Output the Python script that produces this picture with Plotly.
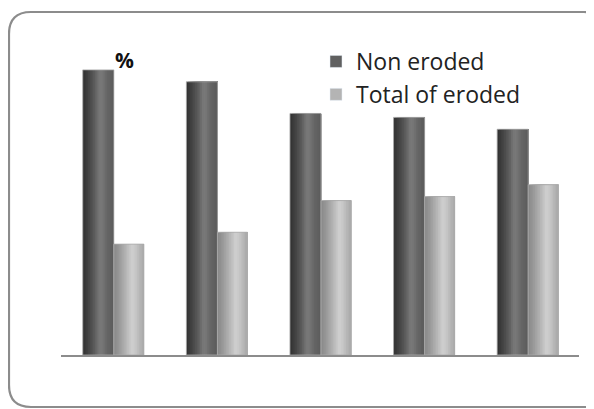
import plotly.graph_objects as go

# ---- data ----
groups = ["1", "2", "3", "4", "5"]
non_eroded = [72, 69, 61, 60, 57]
total_eroded = [28, 31, 39, 40, 43]
series_names = ["Non eroded", "Total of eroded"]
axis_label = "%"

# ---- style ----
W, H = 594, 409          # window size
OFF = 8                  # page body margin
FW, FH = W - OFF, H - OFF
# plot area in window pixels
PL, PR, PT, PB = 61, 579, 58, 355
ML, MR, MT, MB = PL - OFF, W - PR, PT - OFF, H - PB
YMAX = 75
FONT = "Open Sans"
N_STRIPES = 18

dark_profile = [(0.0, 0x30), (0.15, 0x40), (0.35, 0x58), (0.55, 0x7a), (0.65, 0x74),
                (0.8, 0x64), (1.0, 0x5c)]
light_profile = [(0.0, 0x88), (0.15, 0x96), (0.35, 0xae), (0.6, 0xcf), (0.72, 0xc8),
                 (0.88, 0xb4), (1.0, 0xaa)]


def shade(profile, t):
    for (t0, v0), (t1, v1) in zip(profile, profile[1:]):
        if t0 <= t <= t1:
            v = int(round(v0 + (v1 - v0) * (t - t0) / (t1 - t0)))
            return f"rgb({v},{v},{v})"
    v = profile[-1][1]
    return f"rgb({v},{v},{v})"


fig = go.Figure()

bars = [
    (non_eroded, -0.29, 0.30, dark_profile, "#606060"),
    (total_eroded, 0.01, 0.29, light_profile, "#b4b4b4"),
]

for values, start, width, profile, _ in bars:
    for i in range(N_STRIPES):
        t = (i + 0.5) / N_STRIPES
        s = start + i * width / N_STRIPES
        fig.add_trace(go.Bar(
            x=groups, y=values,
            offset=s, width=start + width - s,
            marker=dict(color=shade(profile, t), line=dict(width=0)),
            showlegend=False, hoverinfo="skip",
        ))
    fig.add_trace(go.Bar(
        x=groups, y=values, offset=start, width=width,
        marker=dict(color="rgba(0,0,0,0)", line=dict(color="rgba(170,170,170,0.8)", width=1)),
        showlegend=False, hoverinfo="skip",
    ))

for name, (_, _, _, _, col) in zip(series_names, bars):
    fig.add_trace(go.Bar(x=[None], y=[None], name=name, marker=dict(color=col),
                         legendgroup=name))


def px2x(px):
    return (px - PL) / (PR - PL)


def py2y(py):
    return (PB - py) / (PB - PT)


x0, x1, y0, y1 = px2x(9), px2x(606), py2y(407), py2y(12)
rx = 22 / (PR - PL)
ry = 22 / (PB - PT)
path = (f"M{x0+rx},{y1} L{x1-rx},{y1} Q{x1},{y1} {x1},{y1-ry} L{x1},{y0+ry} "
        f"Q{x1},{y0} {x1-rx},{y0} L{x0+rx},{y0} Q{x0},{y0} {x0},{y0+ry} "
        f"L{x0},{y1-ry} Q{x0},{y1} {x0+rx},{y1} Z")
fig.add_shape(type="path", path=path, xref="paper", yref="paper",
              line=dict(color="#8c8c8c", width=2.2), fillcolor="rgba(0,0,0,0)")

fig.add_annotation(text=f"<b>{axis_label}</b>", xref="paper", yref="paper",
                   x=px2x(124), y=py2y(60), xanchor="center", yanchor="middle",
                   showarrow=False, font=dict(family=FONT, size=21, color="#111"))

fig.update_layout(
    width=FW, height=FH,
    margin=dict(l=ML, r=MR, t=MT, b=MB),
    paper_bgcolor="white", plot_bgcolor="white",
    barmode="overlay",
    font=dict(family=FONT, size=23, color="#222"),
    legend=dict(x=px2x(316), y=py2y(40), xanchor="left", yanchor="top",
                bgcolor="rgba(0,0,0,0)", tracegroupgap=3, traceorder="normal",
                font=dict(family=FONT, size=23, color="#222")),
    xaxis=dict(showticklabels=False, ticks="", showgrid=False, zeroline=False,
               showline=True, linecolor="#8c8c8c", linewidth=2,
               range=[-0.5, 4.5]),
    yaxis=dict(range=[0, YMAX], visible=False, showgrid=False),
    showlegend=True,
)

fig.write_html("out.html", post_script="document.body.style.overflow='hidden';")
